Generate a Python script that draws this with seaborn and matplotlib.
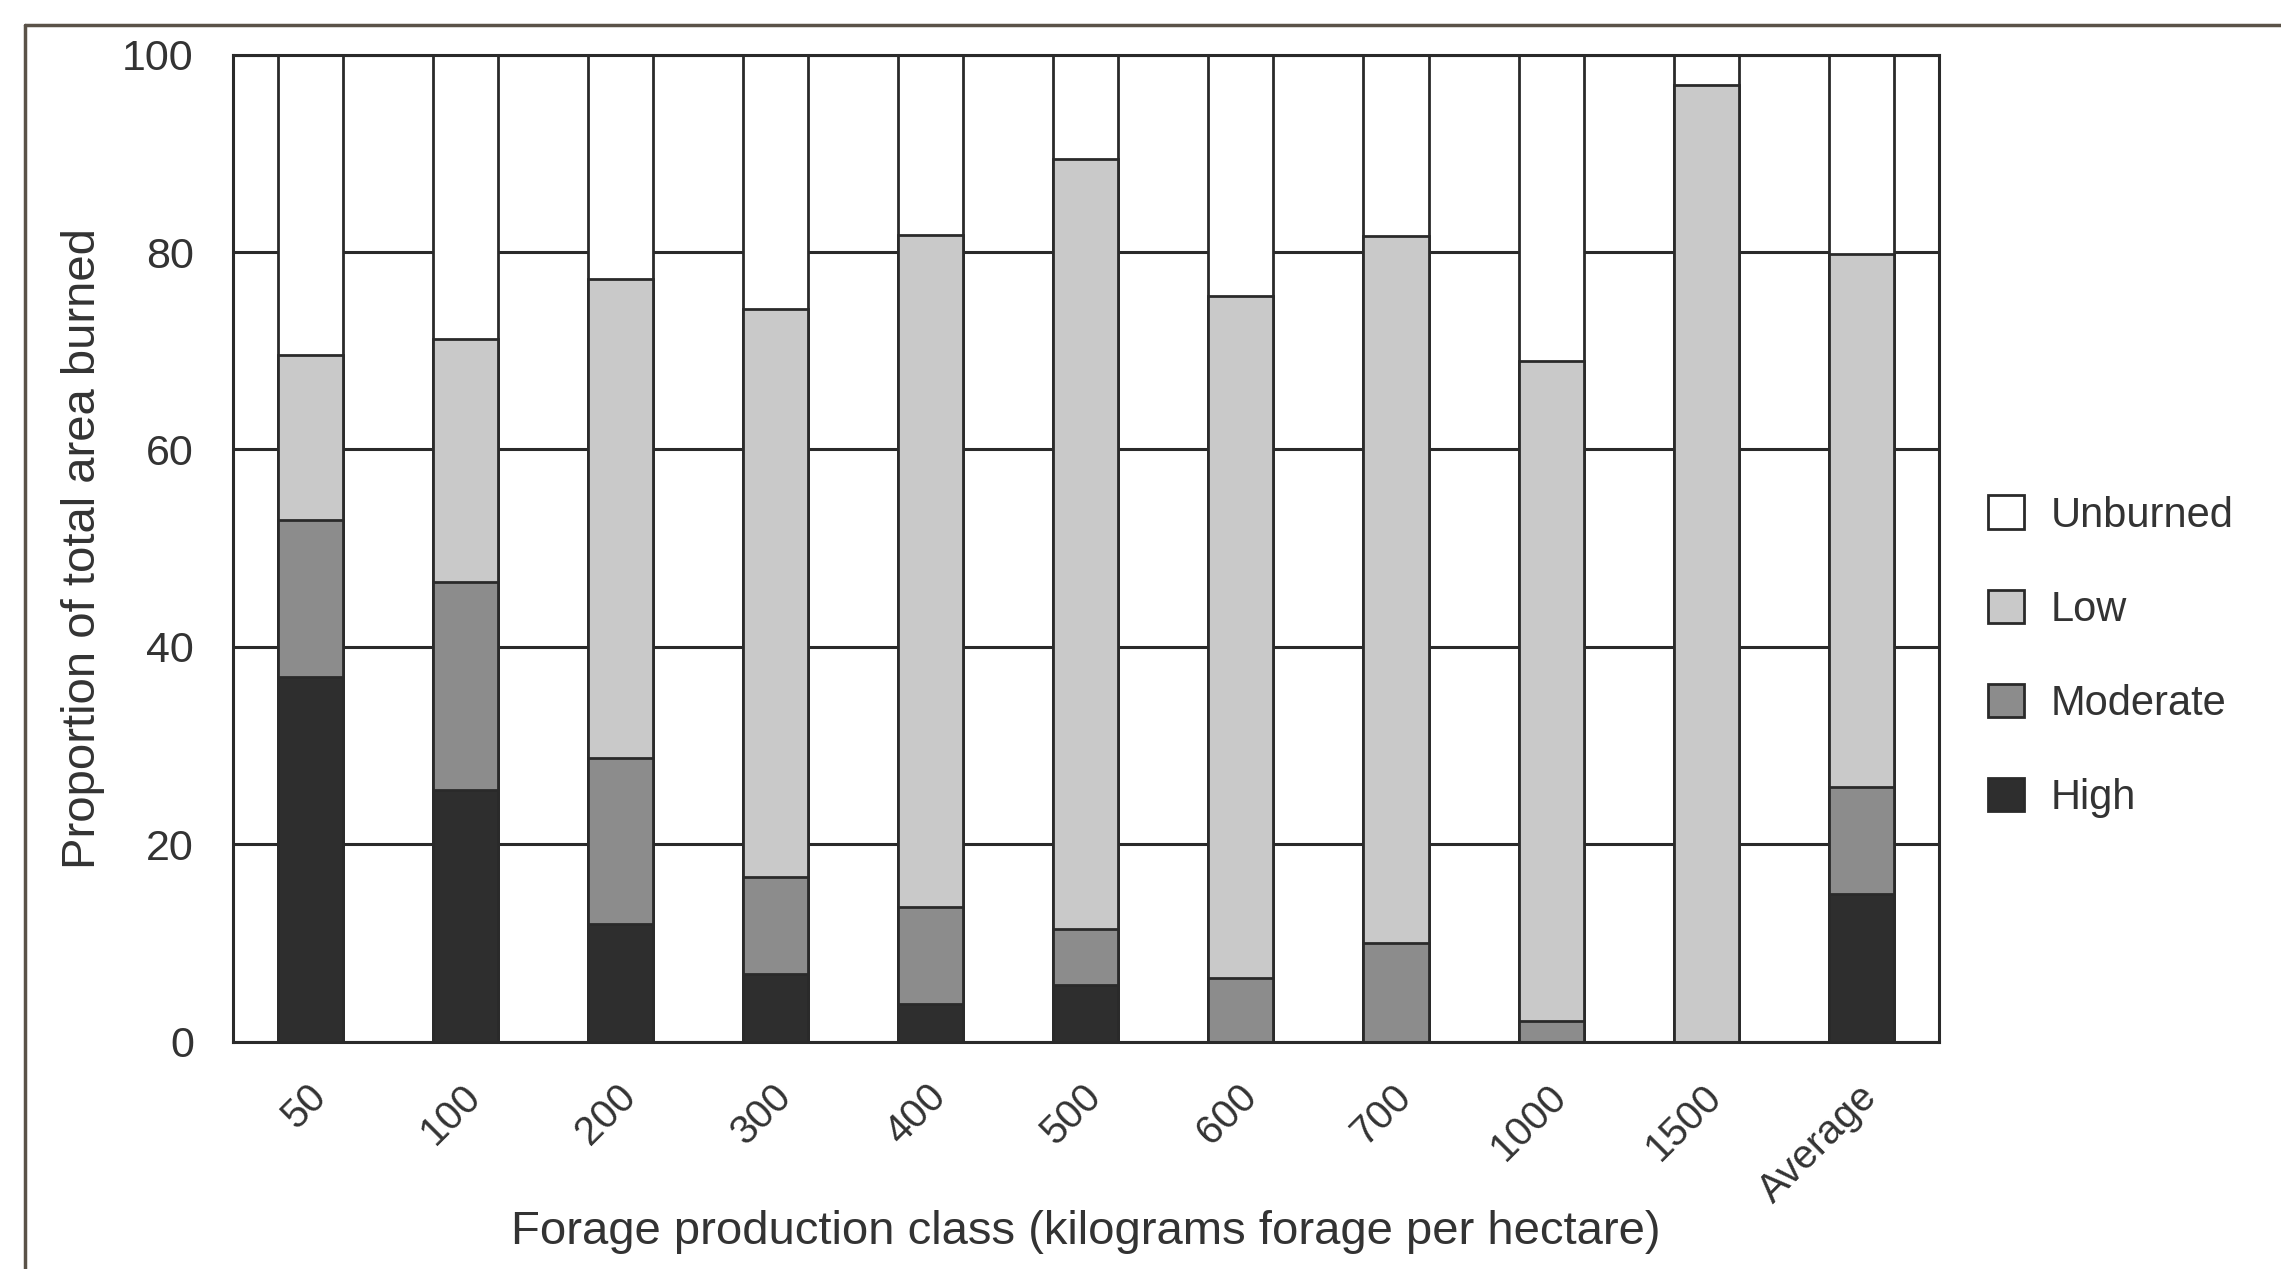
import numpy as np
import pandas as pd
import matplotlib
matplotlib.use("Agg")
import matplotlib.pyplot as plt
import matplotlib.transforms as mtransforms
from matplotlib.patches import Patch
from matplotlib.lines import Line2D
import seaborn as sns

# values (percent of total area)
classes = ["50", "100", "200", "300", "400", "500", "600", "700", "1000", "1500", "Average"]
high = [37.0, 25.5, 11.9, 6.9, 3.8, 5.8, 0.0, 0.0, 0.0, 0.0, 15.0]
moderate = [15.9, 21.1, 16.9, 9.8, 9.9, 5.6, 6.5, 10.0, 2.1, 0.0, 10.8]
low = [16.7, 24.6, 48.5, 57.5, 68.0, 78.0, 69.0, 71.6, 66.9, 96.9, 54.0]
severity = ["Unburned", "Low", "Moderate", "High"]
colours = {"Unburned": "#ffffff", "Low": "#c9c9c9", "Moderate": "#8c8c8c", "High": "#2e2e2e"}

df = pd.DataFrame({"cls": classes, "High": high, "Moderate": moderate, "Low": low})
df["Unburned"] = 100 - df[["High", "Moderate", "Low"]].sum(axis=1)

# cumulative tops, drawn from the top segment down
df["top_High"] = df["High"]
df["top_Moderate"] = df["top_High"] + df["Moderate"]
df["top_Low"] = df["top_Moderate"] + df["Low"]
df["top_Unburned"] = df["top_Low"] + df["Unburned"]

sns.set_style("white")
plt.rcParams["font.family"] = ["Liberation Sans", "DejaVu Sans"]
ink = "#2a2a2a"
txt = "#333333"

fig = plt.figure(figsize=(22.81, 12.69), dpi=100)
ax = fig.add_axes([0.102, 0.179, 0.748, 0.778])

for s in severity:
    sns.barplot(data=df, x="cls", y="top_" + s, order=classes, color=colours[s],
                saturation=1, width=0.42, edgecolor=ink, linewidth=2, ax=ax)

ax.set_ylim(0, 100)
ax.set_yticks(np.arange(0, 101, 20))
ax.set_axisbelow(True)
ax.yaxis.grid(True, color=ink, linewidth=2.2)
for sp in ax.spines.values():
    sp.set_visible(True)
    sp.set_color(ink)
    sp.set_linewidth(2.2)

n = len(classes)
ax.set_xticks(np.arange(-0.5, n, 1), minor=True)
ax.tick_params(axis="x", which="minor", length=20, width=2.2, color=ink, direction="out")
ax.tick_params(axis="x", which="major", length=0, pad=35)
ax.tick_params(axis="y", length=17, width=2.2, color=ink, direction="out", pad=11,
               labelsize=31, labelcolor=txt)
ax.set_xticks(range(n))
ax.set_xticklabels(classes, rotation=45, ha="right", va="center",
                   rotation_mode="anchor", fontsize=29, color=txt)
shift = mtransforms.ScaledTranslation(7 / 72, 0, fig.dpi_scale_trans)
for lab in ax.get_xticklabels():
    lab.set_transform(lab.get_transform() + shift)

ax.set_xlabel("Forage production class (kilograms forage per hectare)",
              fontsize=34, color=txt, labelpad=0)
ax.set_ylabel("Proportion of total area burned", fontsize=34, color=txt, labelpad=12)

handles = [Patch(facecolor=colours[s], edgecolor=ink, linewidth=2, label=s) for s in severity]
ax.legend(handles=handles, loc="center left", bbox_to_anchor=(1.007, 0.39), frameon=False,
          fontsize=30, handlelength=0.85, handleheight=0.85, handletextpad=0.65,
          labelspacing=1.3, labelcolor=txt)

# scanned page frame
fig.add_artist(Line2D([0.011, 1.0], [0.98, 0.98], color="#5a5248", linewidth=2.5))
fig.add_artist(Line2D([0.011, 0.011], [0.0, 0.98], color="#5a5248", linewidth=2.5))

fig.savefig("out.png", dpi=100, facecolor="white")
